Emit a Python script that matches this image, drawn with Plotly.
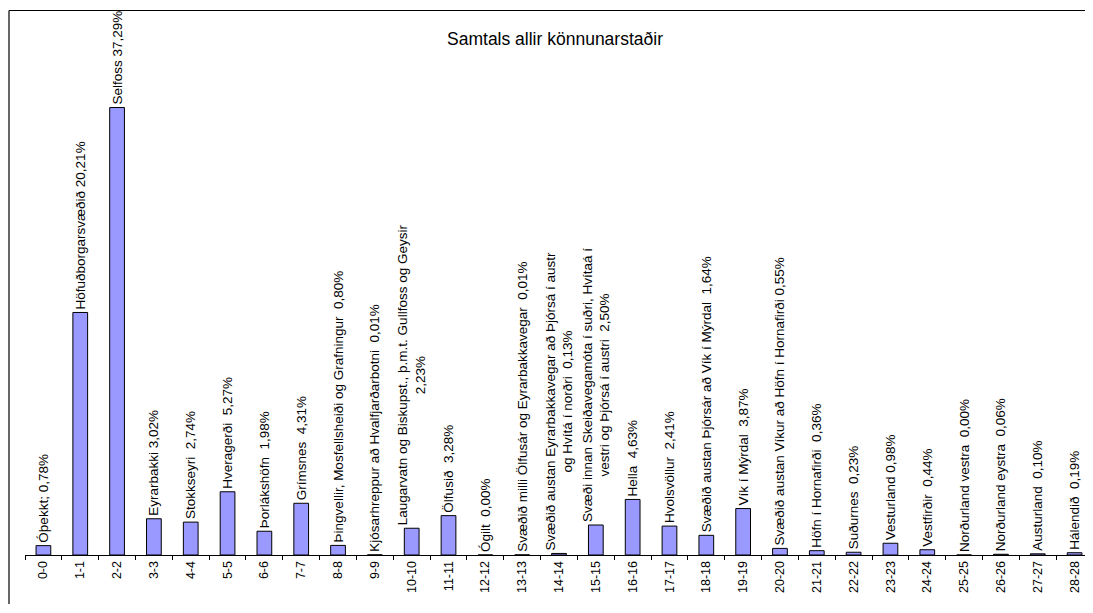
import plotly.graph_objects as go

# === Data ===
categories = [f"{i}-{i}" for i in range(29)]

values = [0.78, 20.21, 37.29, 3.02, 2.74, 5.27, 1.98, 4.31, 0.80, 0.01,
          2.23, 3.28, 0.00, 0.01, 0.13, 2.50, 4.63, 2.41, 1.64, 3.87,
          0.55, 0.36, 0.23, 0.98, 0.44, 0.00, 0.06, 0.10, 0.19]

labels = [
    "Óþekkt; 0,78%",
    "Höfuðborgarsvæðið 20,21%",
    "Selfoss 37,29%",
    "Eyrarbakki 3,02%",
    "Stokkseyri  2,74%",
    "Hveragerði  5,27%",
    "Þorlákshöfn  1,98%",
    "Grímsnes  4,31%",
    "Þingvellir, Mosfellsheiði og Grafningur  0,80%",
    "Kjósarhreppur að Hvalfjarðarbotni  0,01%",
    "Laugarvatn og Biskupst., þ.m.t. Gullfoss og Geysir<br>2,23%",
    "Ölfusið  3,28%",
    "Ógilt  0,00%",
    "Svæðið milli Ölfusár og Eyrarbakkavegar  0,01%",
    "Svæðið austan Eyrarbakkavegar að Þjórsá í austr<br>og Hvítá í norðri  0,13%",
    "Svæði innan Skeiðavegamóta í suðri, Hvítaá í<br>vestri og Þjórsá í austri  2,50%",
    "Hella  4,63%",
    "Hvolsvöllur  2,41%",
    "Svæðið austan Þjórsár að Vík í Mýrdal  1,64%",
    "Vík í Mýrdal  3,87%",
    "Svæðið austan Víkur að Höfn í Hornafirði 0,55%",
    "Höfn í Hornafirði  0,36%",
    "Suðurnes  0,23%",
    "Vesturland 0,98%",
    "Vestfirðir  0,44%",
    "Norðurland vestra  0,00%",
    "Norðurland eystra  0,06%",
    "Austurland  0,10%",
    "Hálendið  0,19%",
]

FONT = "Liberation Sans, Arial, sans-serif"

# síðan hefur 8px spássíu allan hringinn, myndin er því minni svo engin skrunstika komi
W, H = 1085, 596
ML, MR, MT, MB = 17, 0, 67, 49
plot_w = W - ML - MR
plot_h = H - MT - MB

fig = go.Figure()

# Súlur með lóðréttum merkimiðum
fig.add_trace(go.Bar(
    x=categories,
    y=values,
    width=0.4,
    marker=dict(color='#9999FF', line=dict(color='black', width=1)),
    text=labels,
    textposition='outside',
    textangle=-90,
    constraintext='none',
    cliponaxis=False,
    textfont=dict(family=FONT, size=13.5, color='black'),
    hoverinfo='x+y',
))

# Rammi utan um myndritið (vinstri og efri brún)
x_left = (1 - ML) / plot_w
y_top = (plot_h + MT - 2.5) / plot_h
fig.add_shape(type='line', xref='paper', yref='paper',
              x0=x_left, x1=x_left, y0=-0.3, y1=y_top,
              line=dict(color='black', width=1.2), layer='above')
fig.add_shape(type='line', xref='paper', yref='paper',
              x0=x_left, x1=1.05, y0=y_top, y1=y_top,
              line=dict(color='black', width=1.2), layer='above')

fig.update_layout(
    width=W, height=H,
    margin=dict(l=ML, r=MR, t=MT, b=MB),
    paper_bgcolor='white',
    plot_bgcolor='white',
    font=dict(family=FONT, color='black'),
    showlegend=False,
    title=dict(
        text='Samtals allir könnunarstaðir',
        x=(547 - ML) / plot_w, xref='paper', xanchor='center',
        y=1 - 31 / H, yanchor='middle',
        font=dict(family=FONT, size=17.5, color='black'),
    ),
)

fig.update_xaxes(
    type='category',
    showline=True, linecolor='black', linewidth=1,
    ticks='outside', ticklen=4, tickcolor='black',
    tickson='boundaries',
    tickangle=-90,
    tickfont=dict(family=FONT, size=12.5, color='black'),
    showgrid=False,
)

fig.update_yaxes(
    range=[0, 40],
    visible=False,
    showgrid=False,
    zeroline=False,
)

fig.write_html("out.html")
